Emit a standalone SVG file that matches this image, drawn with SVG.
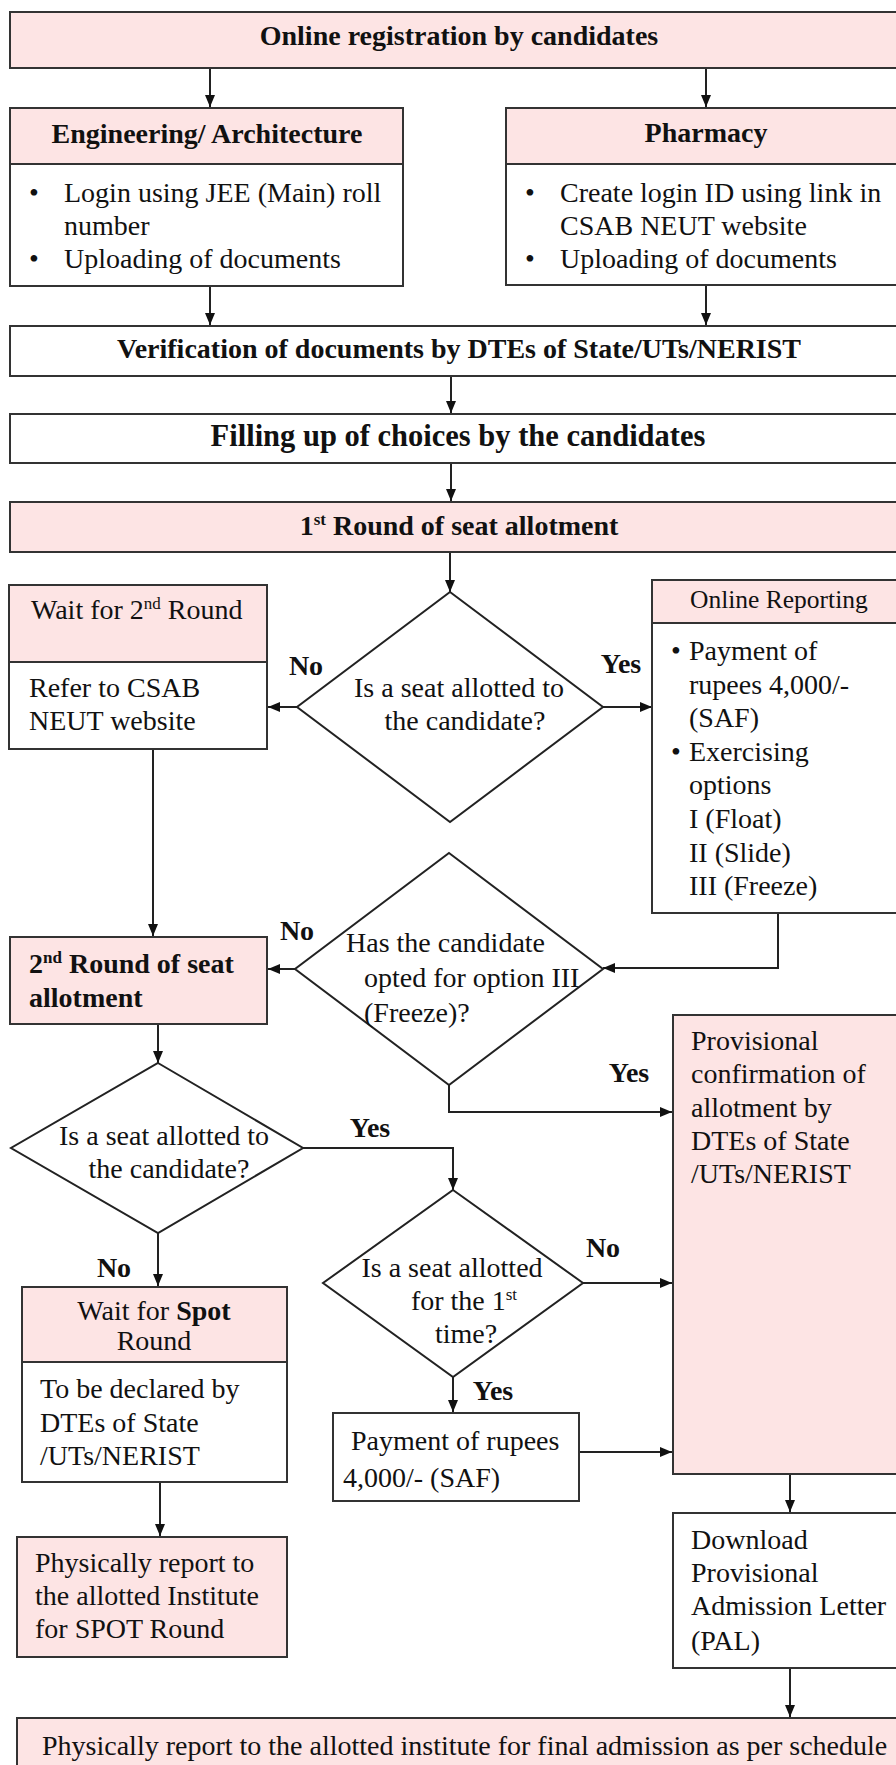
<svg xmlns="http://www.w3.org/2000/svg" width="896" height="1765" viewBox="0 0 896 1765">
<style>
  text { font-family: "Liberation Serif", "Times New Roman", serif; font-size: 28px; fill: #111; }
  .b { font-weight: bold; }
  .c { text-anchor: middle; }
  .pink { fill: #fde4e4; stroke: #333; stroke-width: 2; }
  .white { fill: #ffffff; stroke: #333; stroke-width: 2; }
  .dia { fill: #ffffff; stroke: #222; stroke-width: 2; }
  .con { fill: none; stroke: #222; stroke-width: 2; }
  .arr { marker-end: url(#ah); }
</style>
<defs>
  <marker id="ah" viewBox="0 0 12 10" refX="12" refY="5" markerWidth="12" markerHeight="10" orient="auto" markerUnits="userSpaceOnUse">
    <path d="M0,0 L12,5 L0,10 z" fill="#111"/>
  </marker>
</defs>
<rect width="896" height="1765" fill="#ffffff"/>

<g id="connectors">
  <line class="con arr" x1="210" y1="68" x2="210" y2="107"/>
  <line class="con arr" x1="706" y1="68" x2="706" y2="107"/>
  <line class="con arr" x1="210" y1="286" x2="210" y2="325"/>
  <line class="con arr" x1="706" y1="285" x2="706" y2="325"/>
  <line class="con arr" x1="451" y1="376" x2="451" y2="413"/>
  <line class="con arr" x1="451" y1="463" x2="451" y2="501"/>
  <line class="con arr" x1="450" y1="552" x2="450" y2="592"/>
  <line class="con arr" x1="297" y1="707" x2="268" y2="707"/>
  <line class="con arr" x1="603" y1="707" x2="652" y2="707"/>
  <line class="con arr" x1="153" y1="749" x2="153" y2="936"/>
  <polyline class="con arr" points="778,913 778,968 603,968"/>
  <line class="con arr" x1="295" y1="969" x2="268" y2="969"/>
  <polyline class="con arr" points="449,1085 449,1112 672,1112"/>
  <line class="con arr" x1="158" y1="1024" x2="158" y2="1063"/>
  <polyline class="con arr" points="303,1148 453,1148 453,1190"/>
  <line class="con arr" x1="158" y1="1233" x2="158" y2="1286"/>
  <line class="con arr" x1="583" y1="1283" x2="672" y2="1283"/>
  <line class="con arr" x1="453" y1="1377" x2="453" y2="1412"/>
  <line class="con arr" x1="579" y1="1452" x2="672" y2="1452"/>
  <line class="con arr" x1="160" y1="1482" x2="160" y2="1536"/>
  <line class="con arr" x1="790" y1="1474" x2="790" y2="1512"/>
  <line class="con arr" x1="790" y1="1668" x2="790" y2="1717"/>
</g>

<g id="labels">
  <text class="b c" x="306" y="675">No</text>
  <text class="b c" x="621" y="673">Yes</text>
  <text class="b c" x="297" y="940">No</text>
  <text class="b c" x="629" y="1082">Yes</text>
  <text class="b c" x="370" y="1137">Yes</text>
  <text class="b c" x="114" y="1277">No</text>
  <text class="b c" x="603" y="1257">No</text>
  <text class="b c" x="493" y="1400">Yes</text>
</g>

<g id="online-registration">
  <rect class="pink" x="10" y="12" width="900" height="56"/>
  <text class="b c" x="459" y="45">Online registration by candidates</text>
</g>

<g id="engineering">
  <rect class="pink" x="10" y="108" width="393" height="56"/>
  <rect class="white" x="10" y="164" width="393" height="122"/>
  <text class="b c" x="207" y="143">Engineering/ Architecture</text>
  <text class="c" x="34" y="202">•</text>
  <text x="64" y="202">Login using JEE (Main) roll</text>
  <text x="64" y="235">number</text>
  <text class="c" x="34" y="268">•</text>
  <text x="64" y="268">Uploading of documents</text>
</g>

<g id="pharmacy">
  <rect class="pink" x="506" y="108" width="400" height="56"/>
  <rect class="white" x="506" y="164" width="400" height="121"/>
  <text class="b c" x="706" y="142">Pharmacy</text>
  <text class="c" x="530" y="202">•</text>
  <text x="560" y="202">Create login ID using link in</text>
  <text x="560" y="235">CSAB NEUT website</text>
  <text class="c" x="530" y="268">•</text>
  <text x="560" y="268">Uploading of documents</text>
</g>

<g id="verification">
  <rect class="white" x="10" y="326" width="900" height="50"/>
  <text class="b c" x="459" y="358">Verification of documents by DTEs of State/UTs/NERIST</text>
</g>

<g id="filling">
  <rect class="white" x="10" y="414" width="900" height="49"/>
  <text class="b c" x="458" y="446" style="font-size:30.5px">Filling up of choices by the candidates</text>
</g>

<g id="round1">
  <rect class="pink" x="10" y="502" width="900" height="50"/>
  <text class="b c" x="459" y="535">1<tspan font-size="17" dy="-10">st</tspan><tspan dy="10"> Round of seat allotment</tspan></text>
</g>

<g id="decision1">
  <polygon class="dia" points="450,592 603,707 450,822 297,707"/>
  <text class="c" x="459" y="697">Is a seat allotted to</text>
  <text class="c" x="465" y="730">the candidate?</text>
</g>

<g id="wait-round2">
  <rect class="pink" x="9" y="585" width="258" height="77"/>
  <rect class="white" x="9" y="662" width="258" height="87"/>
  <text x="31" y="619">Wait for 2<tspan font-size="17" dy="-10">nd</tspan><tspan dy="10"> Round</tspan></text>
  <text x="29" y="697">Refer to CSAB</text>
  <text x="29" y="730">NEUT website</text>
</g>

<g id="online-reporting">
  <rect class="pink" x="652" y="580" width="260" height="43"/>
  <rect class="white" x="652" y="623" width="260" height="290"/>
  <text x="690" y="608" style="font-size:25.5px">Online Reporting</text>
  <text class="c" x="676" y="660">•</text>
  <text x="689" y="660">Payment of</text>
  <text x="689" y="694">rupees 4,000/-</text>
  <text x="689" y="727">(SAF)</text>
  <text class="c" x="676" y="761">•</text>
  <text x="689" y="761">Exercising</text>
  <text x="689" y="794">options</text>
  <text x="689" y="828">I (Float)</text>
  <text x="689" y="862">II (Slide)</text>
  <text x="689" y="895">III (Freeze)</text>
</g>

<g id="decision2">
  <polygon class="dia" points="449,853 603,969 449,1085 295,969"/>
  <text x="346" y="952">Has the candidate</text>
  <text x="364" y="987">opted for option III</text>
  <text x="364" y="1022">(Freeze)?</text>
</g>

<g id="round2">
  <rect class="pink" x="10" y="937" width="257" height="87"/>
  <text class="b" x="29" y="973">2<tspan font-size="17" dy="-10">nd</tspan><tspan dy="10"> Round of seat</tspan></text>
  <text class="b" x="29" y="1007">allotment</text>
</g>

<g id="provisional">
  <rect class="pink" x="673" y="1015" width="240" height="459"/>
  <text x="691" y="1050">Provisional</text>
  <text x="691" y="1083">confirmation of</text>
  <text x="691" y="1117">allotment by</text>
  <text x="691" y="1150">DTEs of State</text>
  <text x="691" y="1183">/UTs/NERIST</text>
</g>

<g id="decision3">
  <polygon class="dia" points="158,1063 303,1148 158,1233 11,1148"/>
  <text class="c" x="164" y="1145">Is a seat allotted to</text>
  <text class="c" x="169" y="1178">the candidate?</text>
</g>

<g id="decision4">
  <polygon class="dia" points="453,1190 583,1283 453,1377 323,1283"/>
  <text class="c" x="452" y="1277">Is a seat allotted</text>
  <text class="c" x="464" y="1310">for the 1<tspan font-size="17" dy="-10">st</tspan></text>
  <text class="c" x="466" y="1343">time?</text>
</g>

<g id="wait-spot">
  <rect class="pink" x="22" y="1287" width="265" height="75"/>
  <rect class="white" x="22" y="1362" width="265" height="120"/>
  <text class="c" x="154" y="1320">Wait for <tspan class="b">Spot</tspan></text>
  <text class="c" x="154" y="1350">Round</text>
  <text x="40" y="1398">To be declared by</text>
  <text x="40" y="1432">DTEs of State</text>
  <text x="40" y="1465">/UTs/NERIST</text>
</g>

<g id="payment">
  <rect class="white" x="333" y="1413" width="246" height="88"/>
  <text x="351" y="1450">Payment of rupees</text>
  <text x="343" y="1487">4,000/- (SAF)</text>
</g>

<g id="spot-report">
  <rect class="pink" x="17" y="1537" width="270" height="120"/>
  <text x="35" y="1572">Physically report to</text>
  <text x="35" y="1605">the allotted Institute</text>
  <text x="35" y="1638">for SPOT Round</text>
</g>

<g id="download-pal">
  <rect class="white" x="673" y="1513" width="240" height="155"/>
  <text x="691" y="1549">Download</text>
  <text x="691" y="1582">Provisional</text>
  <text x="691" y="1615">Admission Letter</text>
  <text x="691" y="1650">(PAL)</text>
</g>

<g id="final-report">
  <rect class="pink" x="17" y="1718" width="900" height="60"/>
  <text x="42" y="1755">Physically report to the allotted institute for final admission as per schedule</text>
</g>
</svg>
